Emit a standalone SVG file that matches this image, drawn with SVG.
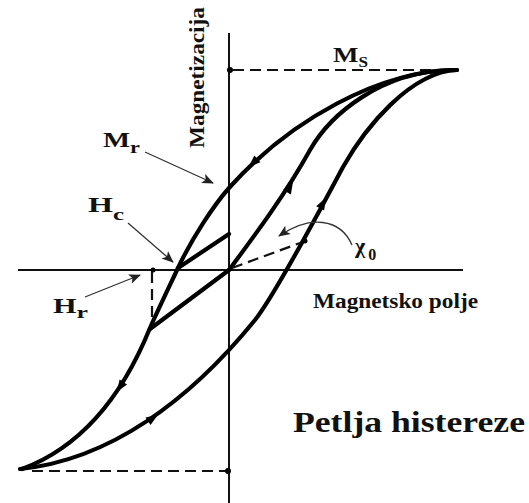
<svg xmlns="http://www.w3.org/2000/svg" width="529" height="503" viewBox="0 0 529 503">
<defs>
<style>
.axis{stroke:#111;stroke-width:2;fill:none}
.curve{stroke:#000;stroke-width:4.2;fill:none;stroke-linecap:round;stroke-linejoin:round}
.dash{stroke:#111;stroke-width:2.2;fill:none;stroke-dasharray:11 6}
.ptr{stroke:#333;stroke-width:1.3;fill:none}
.lbl{font-family:"Liberation Serif","Tinos","Noto Serif","DejaVu Serif","Nimbus Roman","FreeSerif",Times,serif;font-weight:bold;fill:#111}
.tri{fill:#000}
.dot{fill:#000}
</style>
<marker id="ah" viewBox="0 0 12 10" refX="11" refY="5" markerWidth="12" markerHeight="10" markerUnits="userSpaceOnUse" orient="auto">
<path d="M0,0 L12,5 L0,10 L3,5 Z" fill="#222"/>
</marker>
<path id="tr" d="M6,0 L-6,-4.5 L-6,4.5 Z"/>
</defs>
<rect width="529" height="503" fill="#fff"/>
<g id="axes">
<line class="axis" x1="18" y1="270" x2="463" y2="270"/>
<line class="axis" x1="229" y1="33" x2="229" y2="503"/>
<line class="dash" x1="233" y1="70" x2="455" y2="70"/>
<line class="dash" x1="32" y1="471" x2="226" y2="471"/>
<line class="dash" x1="152" y1="272" x2="152" y2="326"/>
<circle class="dot" cx="230" cy="70" r="3"/>
<circle class="dot" cx="228" cy="471" r="3"/>
<circle class="dot" cx="153" cy="270" r="2.5"/>
<circle class="dot" cx="305" cy="241" r="2.5"/>
</g>
<g id="connectors">
<path id="descending" class="curve" d="M457,70 C380,70 290,120 229,188 C214,205 192,238 178,268 C170,285 158,310 150,328 C135,365 100,440 22,469"/>
<path id="ascending" class="curve" d="M20,469 C110,460 190,400 255,320 C275,295 320,210 343,167 C365,128 410,72 457,70"/>
<path id="middle" class="curve" d="M229,270 C255,235 285,195 310,150 C330,115 380,72 450,70"/>
<path id="straight1" class="curve" d="M150,329 L229,270"/>
<path id="straight2" class="curve" d="M178,268 L229,234"/>
<path id="chi-line" class="dash" d="M232,268 L300,243"/>
<use href="#tr" class="tri" transform="translate(253,163) rotate(137)"/>
<use href="#tr" class="tri" transform="translate(120,387) rotate(124)"/>
<use href="#tr" class="tri" transform="translate(153,418) rotate(-34)"/>
<use href="#tr" class="tri" transform="translate(323,203) rotate(-62)"/>
<use href="#tr" class="tri" transform="translate(290,187) rotate(-60)"/>
<line class="ptr" x1="145" y1="152" x2="213" y2="183" marker-end="url(#ah)"/>
<line class="ptr" x1="128" y1="223" x2="173" y2="262" marker-end="url(#ah)"/>
<line class="ptr" x1="85" y1="297" x2="140" y2="275" marker-end="url(#ah)"/>
<path class="ptr" d="M352,245 C340,218 310,215 279,236" marker-end="url(#ah)"/>
</g>
<g id="label-magnetizacija">
<text class="lbl" font-size="20" transform="translate(204,148) rotate(-90)" textLength="141" lengthAdjust="spacingAndGlyphs">Magnetizacija</text>
</g>
<g id="label-ms">
<text class="lbl" x="333" y="62" font-size="22" textLength="35" lengthAdjust="spacingAndGlyphs">M<tspan font-size="14" dy="5">S</tspan></text>
</g>
<g id="label-mr">
<text class="lbl" x="103" y="147" font-size="22" textLength="37" lengthAdjust="spacingAndGlyphs">M<tspan font-size="17" dy="6">r</tspan></text>
</g>
<g id="label-hc">
<text class="lbl" x="88" y="212" font-size="22" textLength="36" lengthAdjust="spacingAndGlyphs">H<tspan font-size="17" dy="8">c</tspan></text>
</g>
<g id="label-hr">
<text class="lbl" x="53" y="313" font-size="20" textLength="35" lengthAdjust="spacingAndGlyphs">H<tspan font-size="17" dy="5">r</tspan></text>
</g>
<g id="label-chi">
<text class="lbl" x="355" y="253" font-size="22">χ<tspan font-size="16" dx="3" dy="7">0</tspan></text>
</g>
<g id="label-polje">
<text class="lbl" x="313" y="308" font-size="20" textLength="165" lengthAdjust="spacingAndGlyphs">Magnetsko polje</text>
</g>
<g id="label-title">
<text class="lbl" x="293" y="432" font-size="30" textLength="232" lengthAdjust="spacingAndGlyphs">Petlja histereze</text>
</g>
</svg>
